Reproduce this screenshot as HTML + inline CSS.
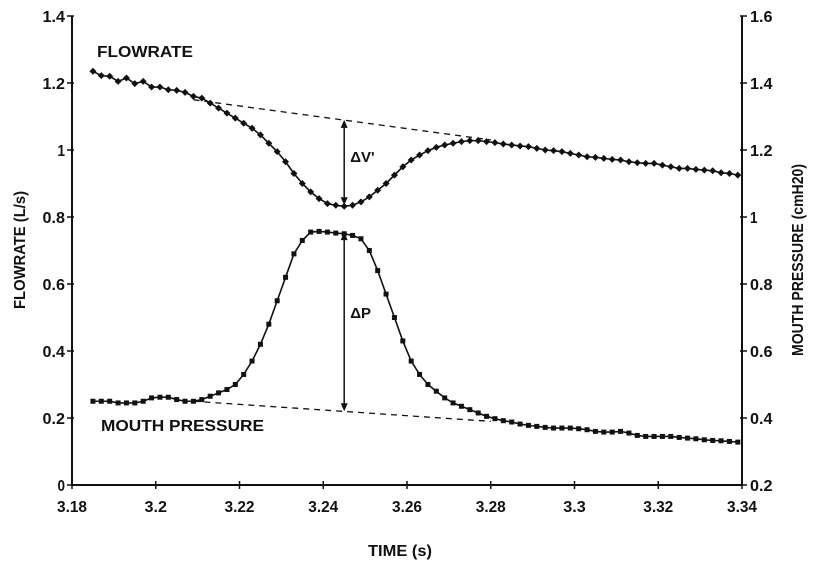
<!DOCTYPE html>
<html><head><meta charset="utf-8"><style>
body{margin:0;background:#fff}
svg text{font-family:"Liberation Sans",Arial,sans-serif;font-weight:bold;fill:#111}
</style></head><body>
<svg id="chart" width="816" height="567" viewBox="0 0 816 567" xmlns="http://www.w3.org/2000/svg"></svg>
<script>
const xTicks=[3.18,3.2,3.22,3.24,3.26,3.28,3.3,3.32,3.34];
const xTickLabels=["3.18","3.2","3.22","3.24","3.26","3.28","3.3","3.32","3.34"];
const leftTicks=[0,0.2,0.4,0.6,0.8,1,1.2,1.4];
const leftTickLabels=["0","0.2","0.4","0.6","0.8","1","1.2","1.4"];
const rightTicks=[0.2,0.4,0.6,0.8,1,1.2,1.4,1.6];
const rightTickLabels=["0.2","0.4","0.6","0.8","1","1.2","1.4","1.6"];
const times=[];for(let i=0;i<78;i++)times.push(+(3.185+i*0.002).toFixed(3));
const flowrate=[1.235,1.222,1.22,1.205,1.215,1.198,1.205,1.188,1.188,1.18,1.178,1.172,1.16,1.155,1.14,1.125,1.11,1.095,1.08,1.065,1.045,1.02,0.995,0.965,0.93,0.9,0.875,0.855,0.84,0.835,0.832,0.835,0.845,0.86,0.88,0.9,0.925,0.95,0.97,0.985,0.998,1.008,1.015,1.02,1.025,1.028,1.028,1.025,1.022,1.018,1.015,1.012,1.01,1.005,1.0,0.998,0.995,0.99,0.985,0.98,0.978,0.975,0.972,0.97,0.965,0.962,0.96,0.96,0.955,0.95,0.945,0.945,0.942,0.94,0.938,0.932,0.93,0.925];
const mouthPressure=[0.45,0.45,0.45,0.445,0.445,0.445,0.45,0.46,0.462,0.462,0.455,0.45,0.45,0.455,0.465,0.475,0.485,0.5,0.53,0.57,0.62,0.68,0.75,0.82,0.89,0.93,0.955,0.957,0.955,0.952,0.95,0.945,0.935,0.9,0.84,0.77,0.7,0.63,0.57,0.53,0.5,0.48,0.46,0.445,0.435,0.425,0.415,0.405,0.398,0.392,0.388,0.382,0.378,0.375,0.372,0.37,0.37,0.37,0.368,0.365,0.36,0.358,0.358,0.36,0.355,0.348,0.345,0.345,0.345,0.345,0.342,0.34,0.338,0.335,0.333,0.332,0.33,0.328];
const flowBaseline=[[3.209,1.15],[3.28,1.03]];
const pressBaseline=[[3.209,0.45],[3.28,0.39]];
const deltaV=[3.245,0.835,1.09];
const deltaP=[3.245,0.42,0.955];

const L=72,R=742,T=16,B=485;
const sx=v=>L+(v-3.18)/(0.16)*(R-L);
const syL=v=>B-v/1.4*(B-T);
const syR=v=>B-(v-0.2)/1.4*(B-T);
const svg=document.getElementById('chart');
const NS='http://www.w3.org/2000/svg';
function mk(tag,attrs,parent){const e=document.createElementNS(NS,tag);for(const k in attrs)e.setAttribute(k,attrs[k]);(parent||svg).appendChild(e);return e;}

let e;
e=mk('line',{x1:L,y1:T,x2:L,y2:B,stroke:'#111','stroke-width':2});


e=mk('line',{x1:R,y1:T,x2:R,y2:B,stroke:'#111','stroke-width':2});


e=mk('line',{x1:L,y1:B,x2:R,y2:B,stroke:'#111','stroke-width':2});



xTicks.forEach((t,i)=>{const x=sx(t);
 mk('line',{x1:x,y1:B-4,x2:x,y2:B+4,stroke:'#111','stroke-width':1.5});
 e=mk('text',{x:x,y:B+27,'text-anchor':'middle','font-size':16,'textLength':xTickLabels[i].length*7.5,'lengthAdjust':'spacingAndGlyphs'});e.textContent=xTickLabels[i];
 
 });
leftTicks.forEach((t,i)=>{const y=syL(t);
 mk('line',{x1:L-5,y1:y,x2:L+2,y2:y,stroke:'#111','stroke-width':1.5});
 e=mk('text',{x:L-7,y:y+6,'text-anchor':'end','font-size':16,'textLength':leftTickLabels[i].length*7.5,'lengthAdjust':'spacingAndGlyphs'});e.textContent=leftTickLabels[i];
 
 });
rightTicks.forEach((t,i)=>{const y=syR(t);
 mk('line',{x1:R-2,y1:y,x2:R+5,y2:y,stroke:'#111','stroke-width':1.5});
 e=mk('text',{x:R+8,y:y+6,'text-anchor':'start','font-size':16,'textLength':rightTickLabels[i].length*7.5,'lengthAdjust':'spacingAndGlyphs'});e.textContent=rightTickLabels[i];
 
 });

e=mk('text',{x:400,y:556,'text-anchor':'middle','font-size':16,'textLength':64,'lengthAdjust':'spacingAndGlyphs'});e.textContent='TIME (s)';


e=mk('text',{x:0,y:0,'text-anchor':'middle','font-size':16,'textLength':118,'lengthAdjust':'spacingAndGlyphs',transform:'translate(25,250) rotate(-90)'});e.textContent='FLOWRATE (L/s)';


e=mk('text',{x:0,y:0,'text-anchor':'middle','font-size':16,'textLength':192,'lengthAdjust':'spacingAndGlyphs',transform:'translate(803,260) rotate(-90)'});e.textContent='MOUTH PRESSURE (cmH20)';



e=mk('line',{x1:sx(flowBaseline[0][0]),y1:syL(flowBaseline[0][1]),x2:sx(flowBaseline[1][0]),y2:syL(flowBaseline[1][1]),stroke:'#111','stroke-width':1.3,'stroke-dasharray':'6,5'});


e=mk('line',{x1:sx(pressBaseline[0][0]),y1:syR(pressBaseline[0][1]),x2:sx(pressBaseline[1][0]),y2:syR(pressBaseline[1][1]),stroke:'#111','stroke-width':1.3,'stroke-dasharray':'6,5'});



e=mk('polyline',{points:times.map((t,i)=>sx(t)+','+syL(flowrate[i])).join(' '),fill:'none',stroke:'#111','stroke-width':1.6});


times.forEach((t,i)=>{const x=sx(t),y=syL(flowrate[i]);
 e=mk('polygon',{points:`${x},${y-3.5} ${x+3.5},${y} ${x},${y+3.5} ${x-3.5},${y}`,fill:'#111'});
 
 });
e=mk('polyline',{points:times.map((t,i)=>sx(t)+','+syR(mouthPressure[i])).join(' '),fill:'none',stroke:'#111','stroke-width':1.6});


times.forEach((t,i)=>{const x=sx(t),y=syR(mouthPressure[i]);
 e=mk('rect',{x:x-2.5,y:y-2.5,width:5,height:5,fill:'#111'});
 
 });

function arrow(x,y1,y2,name){
 const g=mk('g',{});
 
 
 mk('line',{x1:x,y1:y1+6,x2:x,y2:y2-6,stroke:'#111','stroke-width':1.5},g);
 mk('polygon',{points:`${x-3.5},${y1+8} ${x+3.5},${y1+8} ${x},${y1}`,fill:'#111'},g);
 mk('polygon',{points:`${x-3.5},${y2-8} ${x+3.5},${y2-8} ${x},${y2}`,fill:'#111'},g);
}
arrow(sx(deltaV[0]),syL(deltaV[2]),syL(deltaV[1]),'delta-v-arrow');
arrow(sx(deltaP[0]),syR(deltaP[2]),syR(deltaP[1]),'delta-p-arrow');

e=mk('text',{x:sx(deltaV[0])+6,y:162,'font-size':15});e.textContent="ΔV'";


e=mk('text',{x:sx(deltaP[0])+6,y:318,'font-size':15});e.textContent='ΔP';


e=mk('text',{x:97,y:57,'font-size':16,'textLength':96,'lengthAdjust':'spacingAndGlyphs'});e.textContent='FLOWRATE';


e=mk('text',{x:101,y:431,'font-size':16,'textLength':163,'lengthAdjust':'spacingAndGlyphs'});e.textContent='MOUTH PRESSURE';


</script>
</body></html>
